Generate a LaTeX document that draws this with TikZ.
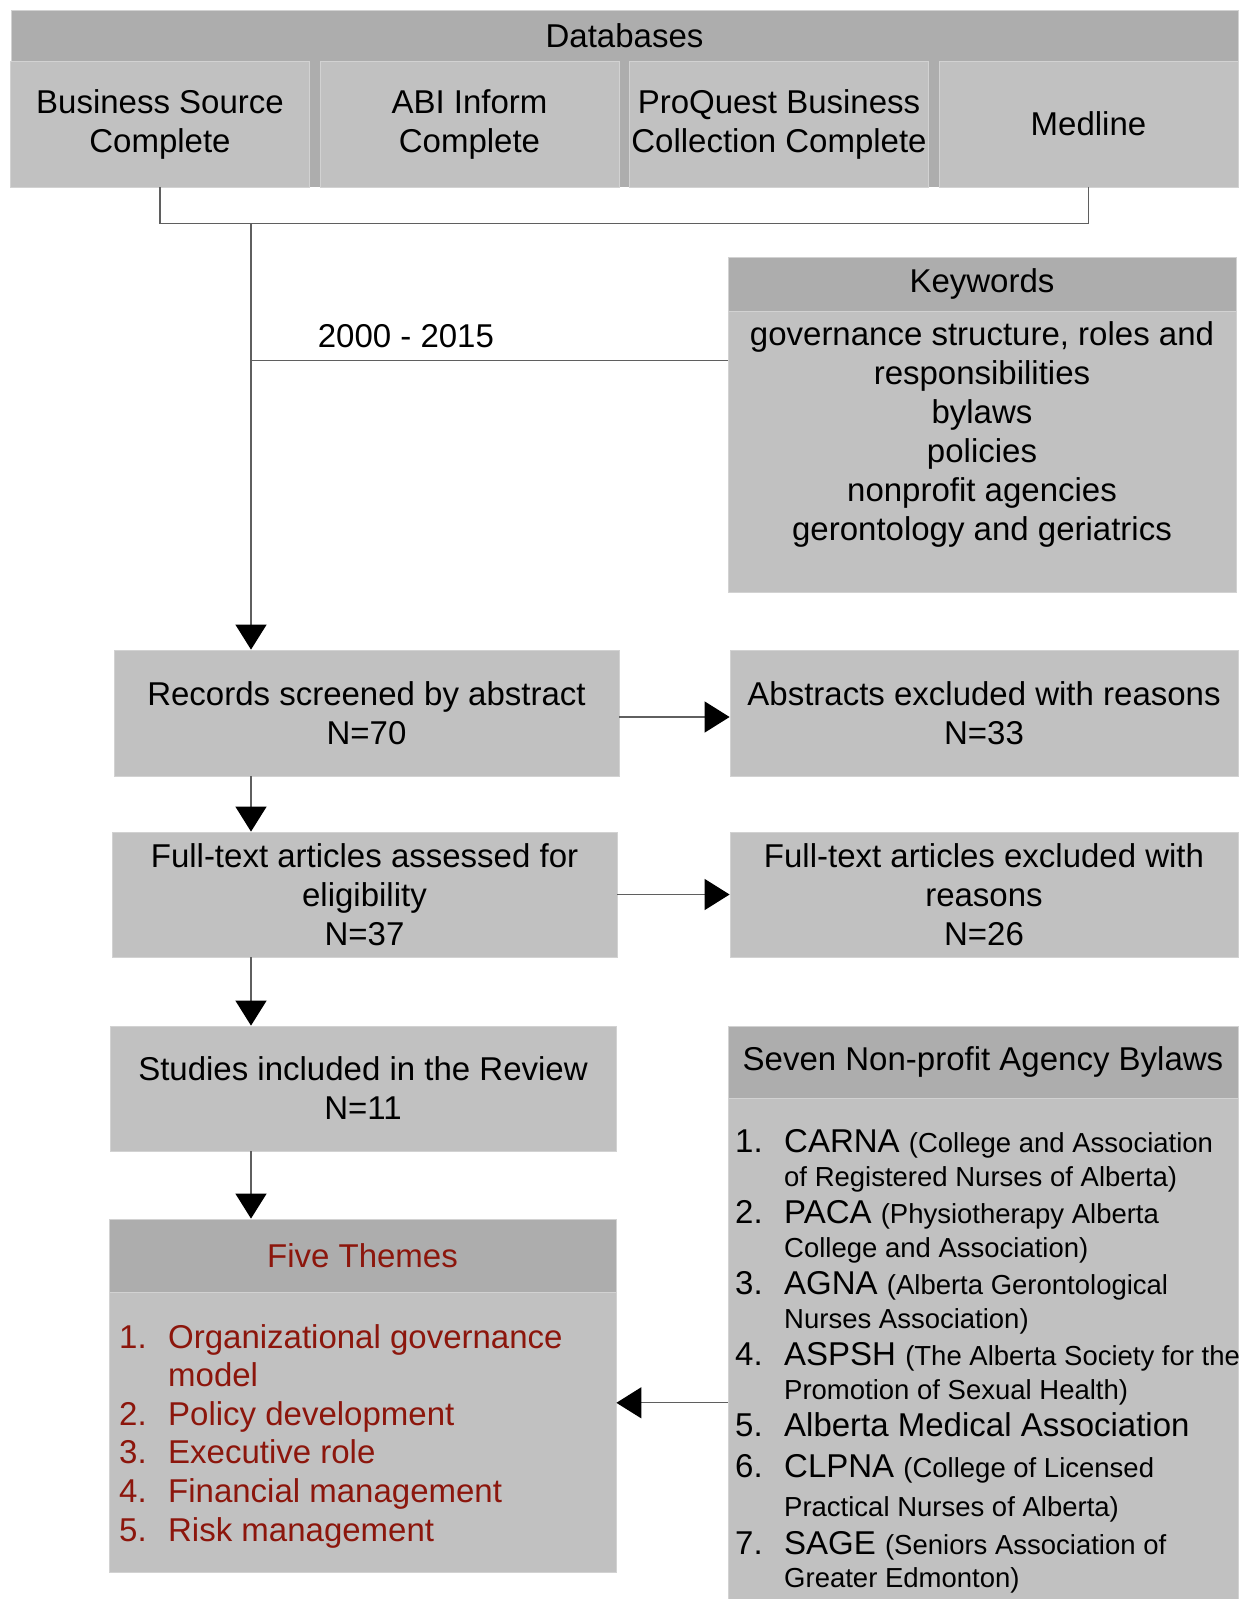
\documentclass[tikz,border=0pt]{standalone}
\usepackage{fontspec}
\setmainfont{Liberation Sans}
\usetikzlibrary{arrows.meta}

\definecolor{hdrgray}{RGB}{173,173,173}
\definecolor{boxgray}{RGB}{193,193,193}
\definecolor{edgegray}{RGB}{210,210,210}
\definecolor{linegray}{RGB}{95,95,95}
\definecolor{themered}{RGB}{140,22,12}
\newcommand{\bigsz}{\fontsize{33}{39}\selectfont}
\newcommand{\bylsz}{\fontsize{33}{37}\selectfont}
\newcommand{\smallsz}{\fontsize{27.5}{33}\selectfont}
\newcommand{\itemno}[1]{\makebox[49pt][l]{#1}}

\begin{document}
\begin{tikzpicture}[x=1pt,y=-1pt,
  box/.style={rectangle,fill=boxgray,draw=edgegray,line width=0.8pt,inner sep=0pt,align=center,font=\bigsz},
  hdr/.style={box,fill=hdrgray},
  link/.style={draw=linegray,line width=1.3pt},
  flow/.style={link,-{Triangle[width=31pt,length=25pt,color=black]}}]

  \useasboundingbox (0,0) rectangle (1247,1599);

  % databases
  \node[hdr,minimum width=1227pt,minimum height=51pt] (dbhead) at (624.5,35.5) {Databases};
  \fill[hdrgray] (dbhead.south west) rectangle (1238,187);
  \node[box,minimum width=299pt,minimum height=126pt] (db1) at (160,124) {Business Source\\Complete};
  \node[box,minimum width=299pt,minimum height=126pt] (db2) [right of=db1,node distance=309.5pt] {ABI Inform\\Complete};
  \node[box,minimum width=299pt,minimum height=126pt] (db3) [right of=db2,node distance=309.5pt] {ProQuest Business\\Collection Complete};
  \node[box,minimum width=299pt,minimum height=126pt] (db4) [right of=db3,node distance=309.5pt] {Medline};

  % keywords
  \node[hdr,minimum width=508pt,minimum height=54pt] (kwhead) at (982,284) {Keywords};
  \node[box,minimum width=508pt,minimum height=281pt,anchor=north] (kwbody) at (kwhead.south) {};
  \node[anchor=north,align=center,font=\bigsz,inner sep=0pt] (kwtext) at ([yshift=-10pt]kwbody.north)
    {governance structure, roles and\\responsibilities\\bylaws\\policies\\nonprofit agencies\\gerontology and geriatrics};

  % screening
  \node[box,minimum width=505pt,minimum height=126pt] (rec) at (366.5,713) {Records screened by abstract\\N=70};
  \node[box,minimum width=508pt,minimum height=126pt] (absx) [right of=rec,node distance=617.5pt] {Abstracts excluded with reasons\\N=33};
  \node[box,minimum width=505pt,minimum height=125pt] (full) at (364.5,894.5) {Full-text articles assessed for\\eligibility\\N=37};
  \node[box,minimum width=508pt,minimum height=125pt] (fullx) [right of=full,node distance=619.5pt] {Full-text articles excluded with\\reasons\\N=26};
  \node[box,minimum width=506pt,minimum height=125pt] (incl) at (363,1088.5) {Studies included in the Review\\N=11};

  % themes
  \node[hdr,minimum width=507pt,minimum height=73pt,text=themered] (thhead) at (362.5,1255.5) {Five Themes};
  \node[box,minimum width=507pt,minimum height=280pt,anchor=north] (thbody) at (thhead.south) {};
  \node[anchor=north west,align=left,inner sep=0pt,text=themered,font=\fontsize{33}{38.6}\selectfont] (thlist) at (119,1324)
    {\itemno{1.}Organizational governance\\
     \itemno{}model\\
     \itemno{2.}Policy development\\
     \itemno{3.}Executive role\\
     \itemno{4.}Financial management\\
     \itemno{5.}Risk management};

  % bylaws
  \node[hdr,minimum width=510pt,minimum height=72pt] (byhead) at (983,1062) {Seven Non-profit Agency Bylaws};
  \node[box,minimum width=510pt,minimum height=501pt,anchor=north] (bybody) at (byhead.south) {};
  \node[anchor=north west,align=left,inner sep=0pt,font=\bylsz] (bylist) at (735,1129)
    {\itemno{1.}CARNA {\smallsz(College and Association}\\[-3pt]
     \itemno{}{\smallsz of Registered Nurses of Alberta)}\\
     \itemno{2.}PACA {\smallsz(Physiotherapy Alberta}\\[-3pt]
     \itemno{}{\smallsz College and Association)}\\
     \itemno{3.}AGNA {\smallsz(Alberta Gerontological}\\[-3pt]
     \itemno{}{\smallsz Nurses Association)}\\
     \itemno{4.}ASPSH {\smallsz(The Alberta Society for the}\\[-3pt]
     \itemno{}{\smallsz Promotion of Sexual Health)}\\
     \itemno{5.}Alberta Medical Association\\[4pt]
     \itemno{6.}CLPNA {\smallsz(College of Licensed}\\[2pt]
     \itemno{}{\smallsz Practical Nurses of Alberta)}\\[1pt]
     \itemno{7.}SAGE {\smallsz(Seniors Association of}\\[-4pt]
     \itemno{}{\smallsz Greater Edmonton)}};

  % connectors
  \coordinate (join) at (251,223);
  \coordinate (kwin) at ([yshift=-49pt]kwhead.south west);
  \coordinate (thin) at ([yshift=30pt]thbody.east);
  \coordinate (recout) at ([yshift=-4pt]rec.east);
  \draw[link] (db1.south) -- ++(0,36) -| (db4.south);
  \draw[link] (join |- kwin) -- (kwin)
    node[pos=0.325,above=12pt,inner sep=0pt,font=\bigsz] (years) {2000 - 2015};
  \draw[flow] (join) -- (join |- rec.north);
  \draw[flow] (rec.south -| join) -- (full.north -| join);
  \draw[flow] (full.south -| join) -- (incl.north -| join);
  \draw[flow] (incl.south -| join) -- (thhead.north -| join);
  \draw[flow] (recout) -- (recout -| absx.west);
  \draw[flow] (full.east) -- (full.east -| fullx.west);
  \draw[flow] (thin -| bybody.west) -- (thin);
\end{tikzpicture}
\end{document}
